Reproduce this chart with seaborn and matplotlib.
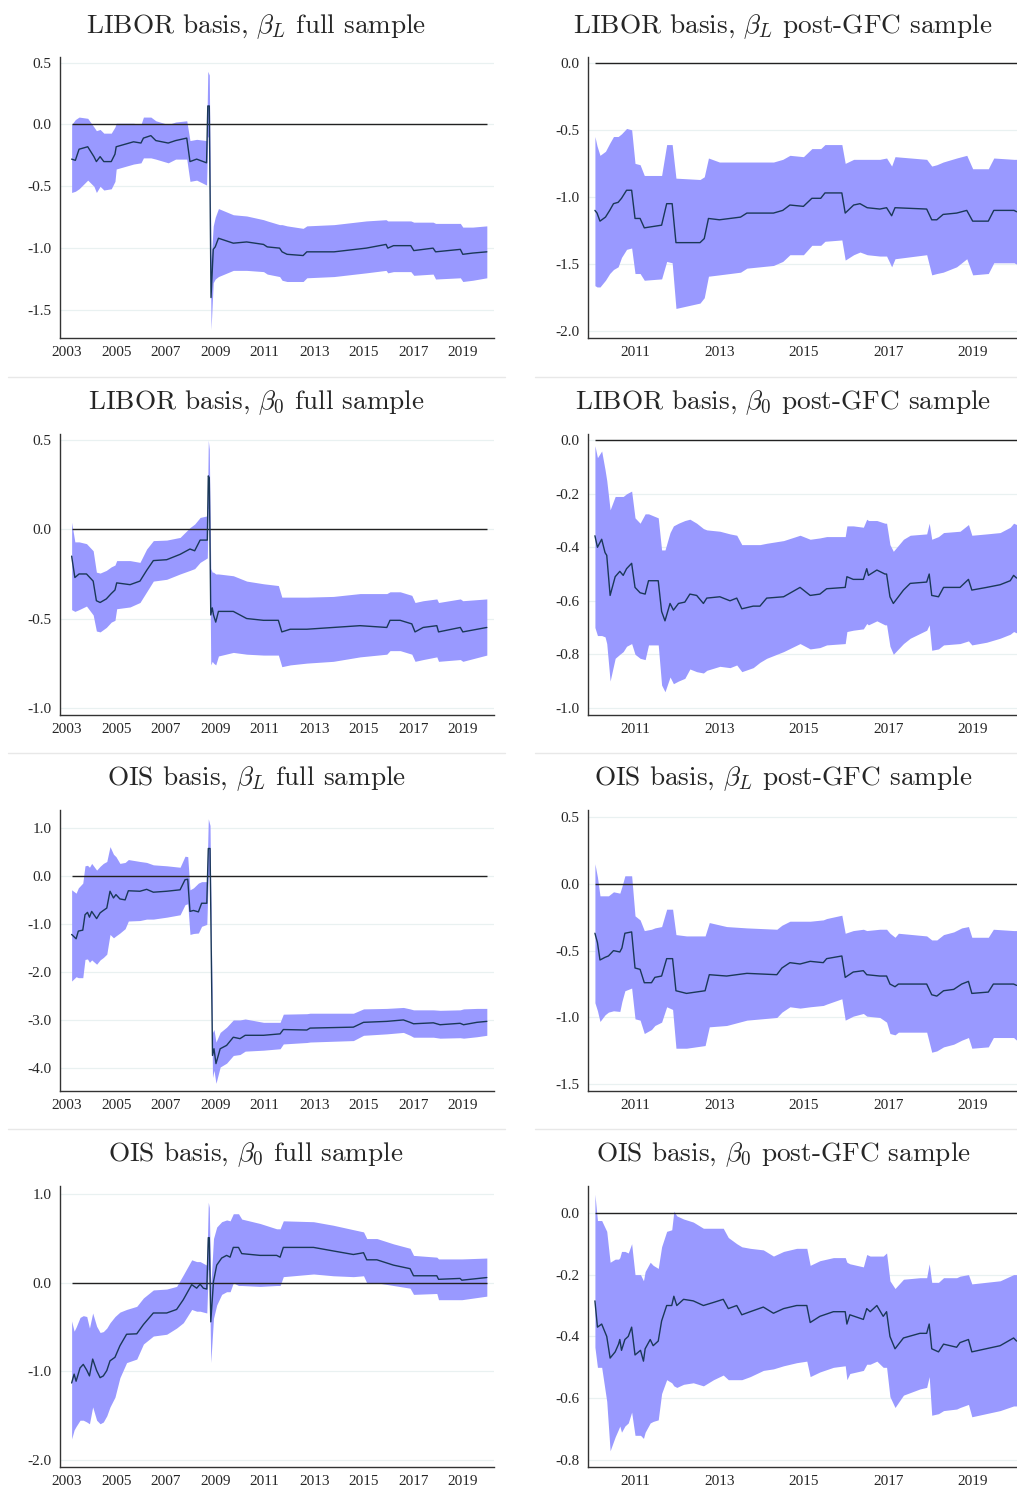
import matplotlib
matplotlib.use('Agg')
import matplotlib.pyplot as plt
import seaborn as sns
from matplotlib.ticker import FormatStrFormatter
from matplotlib.lines import Line2D

# LIBOR basis, beta_L, full sample
lib_bL_full_t = [2003.20, 2003.35, 2003.50, 2003.85, 2004.10, 2004.20, 2004.35, 2004.50, 2004.80, 2004.95,
                 2005.00, 2005.70, 2006.00, 2006.10, 2006.40, 2006.60, 2007.10, 2007.40, 2007.85, 2007.98,
                 2008.25, 2008.65, 2008.70, 2008.76, 2008.83, 2008.92, 2009.00, 2009.13, 2009.73, 2010.27,
                 2010.95, 2011.10, 2011.60, 2011.70, 2011.90, 2012.55, 2012.70, 2013.80, 2015.10, 2015.90,
                 2015.97, 2016.20, 2016.90, 2017.02, 2017.80, 2017.90, 2018.90, 2019.00, 2019.40, 2019.97]
lib_bL_full_mid = [-0.28, -0.29, -0.20, -0.18, -0.26, -0.30, -0.26, -0.30, -0.30, -0.24,
                   -0.18, -0.14, -0.15, -0.11, -0.09, -0.13, -0.15, -0.13, -0.11, -0.30,
                   -0.28, -0.31, 0.15, 0.15, -1.40, -1.01, -0.99, -0.92, -0.96, -0.95,
                   -0.97, -0.99, -1.00, -1.03, -1.05, -1.06, -1.03, -1.03, -1.00, -0.97,
                   -1.00, -0.98, -0.98, -1.02, -1.00, -1.03, -1.01, -1.05, -1.04, -1.03]
lib_bL_full_lo = [-0.55, -0.54, -0.52, -0.45, -0.50, -0.55, -0.50, -0.53, -0.52, -0.46,
                  -0.36, -0.32, -0.31, -0.27, -0.27, -0.28, -0.31, -0.28, -0.28, -0.46,
                  -0.45, -0.49, -0.10, -0.10, -1.66, -1.28, -1.25, -1.23, -1.18, -1.18,
                  -1.19, -1.21, -1.23, -1.26, -1.27, -1.27, -1.24, -1.23, -1.20, -1.18,
                  -1.20, -1.19, -1.19, -1.22, -1.21, -1.25, -1.24, -1.27, -1.26, -1.24]
lib_bL_full_hi = [0.00, 0.04, 0.06, 0.05, -0.02, -0.05, -0.04, -0.07, -0.07, -0.02,
                  0.01, 0.01, 0.00, 0.06, 0.06, 0.03, 0.00, 0.02, 0.03, -0.13,
                  -0.12, -0.13, 0.43, 0.40, -1.10, -0.82, -0.75, -0.68, -0.73, -0.74,
                  -0.77, -0.78, -0.81, -0.81, -0.82, -0.84, -0.82, -0.81, -0.78, -0.77,
                  -0.78, -0.78, -0.78, -0.79, -0.79, -0.80, -0.80, -0.83, -0.83, -0.82]

# LIBOR basis, beta_L, post-GFC sample
lib_bL_post_t = [2010.05, 2010.10, 2010.17, 2010.30, 2010.40, 2010.49, 2010.60, 2010.68, 2010.80, 2010.92,
                 2011.00, 2011.12, 2011.22, 2011.63, 2011.75, 2011.88, 2011.97, 2012.54, 2012.64, 2012.74,
                 2013.00, 2013.50, 2013.65, 2014.28, 2014.50, 2014.67, 2014.99, 2015.19, 2015.40, 2015.50,
                 2015.90, 2015.98, 2016.18, 2016.33, 2016.50, 2016.80, 2016.96, 2017.08, 2017.16, 2017.91,
                 2018.03, 2018.15, 2018.30, 2018.62, 2018.86, 2019.00, 2019.37, 2019.50, 2019.98, 2020.04]
lib_bL_post_mid = [-1.10, -1.12, -1.18, -1.15, -1.10, -1.05, -1.04, -1.01, -0.95, -0.95,
                   -1.16, -1.16, -1.23, -1.21, -1.05, -1.05, -1.34, -1.34, -1.31, -1.16,
                   -1.17, -1.15, -1.12, -1.12, -1.10, -1.06, -1.07, -1.01, -1.01, -0.97,
                   -0.97, -1.12, -1.06, -1.05, -1.08, -1.09, -1.08, -1.14, -1.08, -1.09,
                   -1.17, -1.17, -1.13, -1.12, -1.10, -1.18, -1.18, -1.10, -1.10, -1.11]
lib_bL_post_lo = [-1.66, -1.67, -1.67, -1.62, -1.57, -1.54, -1.52, -1.45, -1.39, -1.38,
                  -1.57, -1.57, -1.62, -1.61, -1.48, -1.49, -1.83, -1.79, -1.75, -1.59,
                  -1.58, -1.56, -1.53, -1.51, -1.48, -1.43, -1.43, -1.36, -1.36, -1.33,
                  -1.32, -1.47, -1.43, -1.41, -1.43, -1.44, -1.44, -1.52, -1.46, -1.43,
                  -1.58, -1.57, -1.56, -1.52, -1.46, -1.58, -1.57, -1.49, -1.49, -1.50]
lib_bL_post_hi = [-0.55, -0.62, -0.69, -0.66, -0.60, -0.55, -0.55, -0.53, -0.49, -0.50,
                  -0.75, -0.76, -0.84, -0.84, -0.61, -0.61, -0.86, -0.87, -0.85, -0.71,
                  -0.74, -0.74, -0.74, -0.74, -0.72, -0.69, -0.70, -0.64, -0.64, -0.61,
                  -0.61, -0.75, -0.72, -0.72, -0.72, -0.72, -0.71, -0.77, -0.70, -0.72,
                  -0.77, -0.76, -0.74, -0.71, -0.69, -0.79, -0.79, -0.71, -0.72, -0.72]

# LIBOR basis, beta_0, full sample
lib_b0_full_t = [2003.20, 2003.33, 2003.50, 2003.80, 2004.07, 2004.20, 2004.35, 2004.60, 2004.80, 2004.95,
                 2005.02, 2005.56, 2005.96, 2006.23, 2006.50, 2007.04, 2007.58, 2007.98, 2008.17, 2008.39,
                 2008.68, 2008.72, 2008.76, 2008.82, 2008.88, 2008.93, 2009.02, 2009.13, 2009.73, 2010.27,
                 2010.95, 2011.55, 2011.69, 2012.03, 2012.70, 2013.77, 2014.85, 2015.93, 2016.06, 2016.47,
                 2016.94, 2017.07, 2017.40, 2017.95, 2018.02, 2018.90, 2019.00, 2019.97]
lib_b0_full_mid = [-0.15, -0.27, -0.25, -0.25, -0.29, -0.40, -0.41, -0.39, -0.36, -0.34,
                   -0.30, -0.31, -0.29, -0.23, -0.175, -0.17, -0.14, -0.11, -0.12, -0.06,
                   -0.06, 0.30, 0.29, -0.48, -0.44, -0.48, -0.52, -0.46, -0.46, -0.50,
                   -0.51, -0.51, -0.575, -0.56, -0.56, -0.55, -0.54, -0.55, -0.51, -0.51,
                   -0.53, -0.575, -0.55, -0.54, -0.575, -0.55, -0.575, -0.55]
lib_b0_full_lo = [-0.45, -0.46, -0.45, -0.43, -0.48, -0.57, -0.575, -0.55, -0.52, -0.51,
                  -0.445, -0.435, -0.41, -0.35, -0.29, -0.28, -0.25, -0.23, -0.22, -0.185,
                  -0.16, 0.12, 0.10, -0.76, -0.74, -0.75, -0.76, -0.71, -0.69, -0.70,
                  -0.705, -0.705, -0.77, -0.76, -0.75, -0.74, -0.715, -0.70, -0.68, -0.68,
                  -0.70, -0.74, -0.73, -0.715, -0.74, -0.73, -0.74, -0.705]
lib_b0_full_hi = [0.04, -0.07, -0.07, -0.08, -0.12, -0.24, -0.245, -0.23, -0.21, -0.20,
                  -0.175, -0.175, -0.185, -0.11, -0.063, -0.06, -0.045, 0.01, 0.03, 0.067,
                  0.076, 0.50, 0.45, -0.22, -0.24, -0.24, -0.25, -0.25, -0.26, -0.29,
                  -0.305, -0.315, -0.38, -0.38, -0.38, -0.376, -0.36, -0.36, -0.35, -0.35,
                  -0.37, -0.41, -0.40, -0.39, -0.41, -0.39, -0.40, -0.39]

# LIBOR basis, beta_0, post-GFC sample
lib_b0_post_t = [2010.05, 2010.11, 2010.21, 2010.29, 2010.33, 2010.41, 2010.53, 2010.64, 2010.72, 2010.80,
                 2010.92, 2011.00, 2011.12, 2011.24, 2011.32, 2011.55, 2011.63, 2011.71, 2011.83, 2011.91,
                 2012.03, 2012.18, 2012.30, 2012.46, 2012.62, 2012.70, 2013.01, 2013.25, 2013.41, 2013.53,
                 2013.80, 2013.96, 2014.12, 2014.52, 2014.91, 2015.15, 2015.38, 2015.54, 2015.98, 2016.02,
                 2016.17, 2016.41, 2016.49, 2016.53, 2016.73, 2016.92, 2016.96, 2017.04, 2017.12, 2017.36,
                 2017.52, 2017.91, 2017.97, 2018.03, 2018.19, 2018.31, 2018.70, 2018.90, 2018.98, 2019.33,
                 2019.65, 2019.89, 2019.97, 2020.04]
lib_b0_post_mid = [-0.357, -0.40, -0.37, -0.42, -0.43, -0.58, -0.51, -0.49, -0.505, -0.48,
                   -0.46, -0.55, -0.57, -0.575, -0.525, -0.525, -0.64, -0.675, -0.61, -0.635,
                   -0.61, -0.605, -0.575, -0.58, -0.61, -0.59, -0.585, -0.60, -0.59, -0.63,
                   -0.62, -0.62, -0.59, -0.585, -0.55, -0.58, -0.575, -0.555, -0.55, -0.51,
                   -0.52, -0.52, -0.48, -0.505, -0.485, -0.50, -0.50, -0.585, -0.61, -0.56,
                   -0.535, -0.53, -0.50, -0.58, -0.585, -0.55, -0.55, -0.52, -0.56, -0.55,
                   -0.54, -0.525, -0.505, -0.515]
lib_b0_post_lo = [-0.70, -0.73, -0.73, -0.735, -0.76, -0.90, -0.815, -0.80, -0.79, -0.77,
                  -0.76, -0.80, -0.815, -0.82, -0.765, -0.765, -0.915, -0.94, -0.885, -0.91,
                  -0.90, -0.89, -0.855, -0.865, -0.87, -0.86, -0.845, -0.85, -0.84, -0.865,
                  -0.85, -0.83, -0.815, -0.79, -0.76, -0.78, -0.775, -0.765, -0.76, -0.715,
                  -0.71, -0.705, -0.685, -0.69, -0.675, -0.69, -0.69, -0.77, -0.80, -0.76,
                  -0.74, -0.71, -0.69, -0.785, -0.78, -0.765, -0.76, -0.75, -0.765, -0.755,
                  -0.74, -0.725, -0.715, -0.72]
lib_b0_post_hi = [-0.02, -0.065, -0.04, -0.11, -0.15, -0.26, -0.21, -0.21, -0.21, -0.20,
                  -0.19, -0.29, -0.31, -0.275, -0.275, -0.29, -0.41, -0.41, -0.345, -0.32,
                  -0.31, -0.30, -0.295, -0.31, -0.33, -0.335, -0.34, -0.35, -0.355, -0.39,
                  -0.39, -0.39, -0.385, -0.375, -0.355, -0.37, -0.365, -0.36, -0.36, -0.32,
                  -0.32, -0.325, -0.295, -0.30, -0.30, -0.31, -0.31, -0.39, -0.415, -0.37,
                  -0.355, -0.35, -0.31, -0.37, -0.36, -0.345, -0.34, -0.315, -0.355, -0.35,
                  -0.345, -0.325, -0.31, -0.315]

# OIS basis, beta_L, full sample
ois_bL_full_t = [2003.20, 2003.38, 2003.47, 2003.65, 2003.74, 2003.84, 2003.92, 2004.01, 2004.21, 2004.35,
                 2004.48, 2004.62, 2004.75, 2004.89, 2004.99, 2005.15, 2005.36, 2005.49, 2005.96, 2006.23,
                 2006.50, 2007.04, 2007.58, 2007.78, 2007.89, 2007.98, 2008.12, 2008.32, 2008.45, 2008.66,
                 2008.72, 2008.79, 2008.89, 2008.95, 2009.03, 2009.20, 2009.46, 2009.73, 2010.00, 2010.21,
                 2010.95, 2011.62, 2011.75, 2012.70, 2012.83, 2014.58, 2014.99, 2015.93, 2016.60, 2016.87,
                 2017.01, 2017.81, 2018.08, 2018.89, 2019.03, 2019.57, 2019.97]
ois_bL_full_mid = [-1.22, -1.31, -1.15, -1.13, -0.81, -0.76, -0.86, -0.74, -0.89, -0.77,
                   -0.72, -0.67, -0.32, -0.46, -0.39, -0.48, -0.50, -0.31, -0.32, -0.28,
                   -0.34, -0.32, -0.29, -0.08, -0.07, -0.74, -0.72, -0.75, -0.57, -0.57,
                   0.57, 0.57, -3.74, -3.60, -3.91, -3.60, -3.53, -3.36, -3.39, -3.32,
                   -3.32, -3.29, -3.20, -3.21, -3.17, -3.15, -3.05, -3.03, -3.00, -3.05,
                   -3.08, -3.06, -3.10, -3.07, -3.10, -3.05, -3.03]
ois_bL_full_lo = [-2.19, -2.10, -2.12, -2.12, -1.74, -1.73, -1.80, -1.75, -1.84, -1.75,
                  -1.70, -1.63, -1.22, -1.29, -1.25, -1.19, -1.10, -0.94, -0.93, -0.90,
                  -0.90, -0.86, -0.81, -0.60, -0.58, -1.22, -1.20, -1.19, -1.05, -1.01,
                  0.00, 0.05, -4.20, -4.05, -4.32, -3.98, -3.90, -3.74, -3.72, -3.65,
                  -3.63, -3.60, -3.50, -3.47, -3.46, -3.43, -3.32, -3.29, -3.26, -3.32,
                  -3.36, -3.36, -3.38, -3.37, -3.38, -3.35, -3.32]
ois_bL_full_hi = [-0.29, -0.36, -0.25, -0.15, 0.21, 0.22, 0.18, 0.26, 0.12, 0.20,
                  0.26, 0.30, 0.61, 0.45, 0.40, 0.26, 0.28, 0.34, 0.30, 0.28,
                  0.23, 0.21, 0.18, 0.41, 0.40, -0.29, -0.25, -0.15, -0.12, -0.12,
                  1.19, 1.05, -3.26, -3.20, -3.46, -3.26, -3.15, -3.00, -3.00, -2.98,
                  -3.05, -3.05, -2.88, -2.87, -2.86, -2.86, -2.77, -2.76, -2.74, -2.77,
                  -2.79, -2.79, -2.80, -2.79, -2.77, -2.76, -2.76]

# OIS basis, beta_L, post-GFC sample
ois_bL_post_t = [2010.05, 2010.11, 2010.17, 2010.29, 2010.37, 2010.49, 2010.64, 2010.69, 2010.76, 2010.92,
                 2011.00, 2011.12, 2011.22, 2011.39, 2011.47, 2011.63, 2011.75, 2011.89, 2011.97, 2012.22,
                 2012.66, 2012.76, 2013.17, 2013.65, 2014.36, 2014.48, 2014.67, 2014.91, 2015.15, 2015.46,
                 2015.54, 2015.90, 2015.98, 2016.17, 2016.41, 2016.49, 2016.80, 2016.96, 2017.04, 2017.16,
                 2017.24, 2017.91, 2018.03, 2018.15, 2018.31, 2018.55, 2018.74, 2018.90, 2018.98, 2019.37,
                 2019.49, 2019.97, 2020.04]
ois_bL_post_mid = [-0.37, -0.44, -0.57, -0.55, -0.54, -0.50, -0.51, -0.48, -0.37, -0.36,
                   -0.63, -0.64, -0.74, -0.74, -0.70, -0.69, -0.56, -0.56, -0.80, -0.82,
                   -0.80, -0.68, -0.69, -0.67, -0.68, -0.63, -0.59, -0.60, -0.58, -0.59,
                   -0.56, -0.54, -0.70, -0.66, -0.65, -0.68, -0.69, -0.69, -0.75, -0.77,
                   -0.75, -0.75, -0.83, -0.84, -0.80, -0.79, -0.75, -0.73, -0.82, -0.81,
                   -0.75, -0.75, -0.76]
ois_bL_post_lo = [-0.89, -0.95, -1.03, -0.98, -0.96, -0.95, -0.955, -0.88, -0.80, -0.78,
                  -1.01, -1.02, -1.12, -1.09, -1.06, -1.035, -0.92, -0.94, -1.23, -1.23,
                  -1.21, -1.07, -1.06, -1.02, -1.00, -0.96, -0.92, -0.93, -0.92, -0.91,
                  -0.90, -0.86, -1.02, -0.99, -0.97, -0.99, -1.00, -1.035, -1.12, -1.13,
                  -1.11, -1.11, -1.26, -1.25, -1.22, -1.20, -1.17, -1.15, -1.23, -1.22,
                  -1.15, -1.15, -1.17]
ois_bL_post_hi = [0.15, 0.05, -0.09, -0.09, -0.09, -0.06, -0.07, -0.02, 0.06, 0.06,
                  -0.24, -0.27, -0.35, -0.34, -0.33, -0.32, -0.19, -0.19, -0.38, -0.39,
                  -0.39, -0.29, -0.32, -0.33, -0.34, -0.31, -0.28, -0.28, -0.28, -0.27,
                  -0.26, -0.235, -0.37, -0.35, -0.34, -0.35, -0.34, -0.34, -0.37, -0.40,
                  -0.37, -0.39, -0.42, -0.42, -0.38, -0.36, -0.33, -0.32, -0.40, -0.40,
                  -0.34, -0.35, -0.35]

# OIS basis, beta_0, full sample
ois_b0_full_t = [2003.20, 2003.30, 2003.38, 2003.54, 2003.67, 2003.81, 2003.92, 2004.05, 2004.21, 2004.35,
                 2004.48, 2004.62, 2004.75, 2004.95, 2005.15, 2005.42, 2005.83, 2006.10, 2006.50, 2007.04,
                 2007.44, 2007.71, 2008.05, 2008.25, 2008.39, 2008.52, 2008.66, 2008.72, 2008.76, 2008.82,
                 2008.93, 2009.06, 2009.26, 2009.46, 2009.60, 2009.73, 2009.94, 2010.07, 2010.81, 2011.48,
                 2011.62, 2011.75, 2012.97, 2013.77, 2014.58, 2014.99, 2015.12, 2015.53, 2016.20, 2016.87,
                 2017.01, 2017.95, 2018.02, 2018.89, 2018.96, 2019.97]
ois_b0_full_mid = [-1.13, -1.03, -1.11, -0.96, -0.92, -0.985, -1.05, -0.86, -0.99, -1.07,
                   -1.05, -0.99, -0.88, -0.84, -0.71, -0.58, -0.575, -0.47, -0.34, -0.34,
                   -0.30, -0.19, -0.02, -0.06, -0.015, -0.06, -0.07, 0.51, 0.51, -0.44,
                   0.015, 0.20, 0.28, 0.31, 0.29, 0.40, 0.40, 0.33, 0.31, 0.31,
                   0.29, 0.40, 0.40, 0.36, 0.32, 0.34, 0.26, 0.26, 0.20, 0.16,
                   0.08, 0.08, 0.04, 0.05, 0.03, 0.06]
ois_b0_full_lo = [-1.76, -1.66, -1.62, -1.55, -1.55, -1.57, -1.59, -1.40, -1.55, -1.59,
                  -1.57, -1.50, -1.40, -1.29, -1.07, -0.90, -0.86, -0.69, -0.60, -0.58,
                  -0.51, -0.45, -0.30, -0.32, -0.32, -0.33, -0.34, 0.15, 0.15, -0.90,
                  -0.40, -0.25, -0.13, -0.10, -0.10, 0.00, -0.03, -0.03, -0.04, -0.03,
                  -0.03, 0.07, 0.10, 0.08, 0.07, 0.08, 0.00, 0.00, -0.03, -0.06,
                  -0.13, -0.12, -0.19, -0.19, -0.19, -0.15]
ois_b0_full_hi = [-0.43, -0.545, -0.50, -0.39, -0.37, -0.38, -0.51, -0.34, -0.49, -0.56,
                  -0.55, -0.51, -0.45, -0.38, -0.33, -0.30, -0.265, -0.17, -0.08, -0.07,
                  -0.04, 0.09, 0.26, 0.24, 0.24, 0.22, 0.20, 0.91, 0.85, -0.05,
                  0.50, 0.63, 0.69, 0.71, 0.70, 0.78, 0.78, 0.72, 0.67, 0.61,
                  0.61, 0.70, 0.69, 0.65, 0.60, 0.575, 0.50, 0.50, 0.44, 0.39,
                  0.31, 0.29, 0.27, 0.27, 0.27, 0.28]

# OIS basis, beta_0, post-GFC sample
ois_b0_post_t = [2010.05, 2010.11, 2010.21, 2010.33, 2010.41, 2010.53, 2010.61, 2010.64, 2010.68, 2010.76,
                 2010.84, 2010.92, 2011.00, 2011.13, 2011.20, 2011.24, 2011.36, 2011.43, 2011.55, 2011.63,
                 2011.75, 2011.87, 2011.92, 2011.99, 2012.15, 2012.38, 2012.62, 2012.86, 2013.09, 2013.21,
                 2013.41, 2013.53, 2013.73, 2014.04, 2014.28, 2014.52, 2014.83, 2015.07, 2015.15, 2015.38,
                 2015.70, 2015.98, 2016.02, 2016.09, 2016.41, 2016.49, 2016.57, 2016.73, 2016.88, 2016.96,
                 2017.04, 2017.16, 2017.36, 2017.75, 2017.91, 2017.97, 2018.03, 2018.19, 2018.31, 2018.62,
                 2018.70, 2018.90, 2018.98, 2019.65, 2019.97, 2020.04]
ois_b0_post_mid = [-0.285, -0.37, -0.36, -0.40, -0.47, -0.45, -0.425, -0.41, -0.445, -0.41,
                   -0.40, -0.37, -0.46, -0.445, -0.48, -0.44, -0.41, -0.43, -0.415, -0.35,
                   -0.30, -0.30, -0.27, -0.30, -0.28, -0.285, -0.30, -0.29, -0.28, -0.31,
                   -0.30, -0.33, -0.32, -0.305, -0.325, -0.31, -0.30, -0.30, -0.355, -0.335,
                   -0.32, -0.32, -0.36, -0.33, -0.345, -0.31, -0.32, -0.30, -0.335, -0.32,
                   -0.40, -0.44, -0.405, -0.39, -0.39, -0.36, -0.44, -0.45, -0.425, -0.435,
                   -0.42, -0.41, -0.45, -0.43, -0.405, -0.415]
ois_b0_post_lo = [-0.435, -0.50, -0.50, -0.61, -0.77, -0.725, -0.70, -0.69, -0.71, -0.69,
                  -0.68, -0.645, -0.72, -0.72, -0.73, -0.71, -0.68, -0.675, -0.67, -0.585,
                  -0.54, -0.55, -0.56, -0.565, -0.555, -0.55, -0.56, -0.54, -0.525, -0.54,
                  -0.54, -0.54, -0.53, -0.51, -0.505, -0.495, -0.485, -0.48, -0.53, -0.515,
                  -0.50, -0.495, -0.54, -0.52, -0.51, -0.49, -0.49, -0.48, -0.50, -0.50,
                  -0.595, -0.63, -0.59, -0.57, -0.565, -0.53, -0.655, -0.65, -0.64, -0.635,
                  -0.63, -0.62, -0.66, -0.64, -0.625, -0.625]
ois_b0_post_hi = [0.06, -0.025, -0.025, -0.06, -0.16, -0.15, -0.15, -0.145, -0.125, -0.125,
                  -0.13, -0.10, -0.20, -0.20, -0.22, -0.19, -0.16, -0.17, -0.18, -0.11,
                  -0.06, -0.055, 0.005, -0.01, -0.02, -0.03, -0.05, -0.05, -0.05, -0.08,
                  -0.10, -0.11, -0.115, -0.12, -0.14, -0.125, -0.115, -0.115, -0.17, -0.155,
                  -0.145, -0.145, -0.16, -0.165, -0.175, -0.135, -0.14, -0.14, -0.14, -0.13,
                  -0.22, -0.245, -0.215, -0.21, -0.21, -0.165, -0.225, -0.225, -0.21, -0.21,
                  -0.205, -0.20, -0.23, -0.22, -0.20, -0.20]

full_years = [2003, 2005, 2007, 2009, 2011, 2013, 2015, 2017, 2019]
post_years = [2011, 2013, 2015, 2017, 2019]

panels = [
    (r'LIBOR basis, $\beta_L$ full sample', lib_bL_full_t, lib_bL_full_mid, lib_bL_full_lo, lib_bL_full_hi,
     (-1.727, 0.546), [0.5, 0.0, -0.5, -1.0, -1.5], 'full'),
    (r'LIBOR basis, $\beta_L$ post-GFC sample', lib_bL_post_t, lib_bL_post_mid, lib_bL_post_lo, lib_bL_post_hi,
     (-2.05, 0.042), [0.0, -0.5, -1.0, -1.5, -2.0], 'post'),
    (r'LIBOR basis, $\beta_0$ full sample', lib_b0_full_t, lib_b0_full_mid, lib_b0_full_lo, lib_b0_full_hi,
     (-1.041, 0.535), [0.5, 0.0, -0.5, -1.0], 'full'),
    (r'LIBOR basis, $\beta_0$ post-GFC sample', lib_b0_post_t, lib_b0_post_mid, lib_b0_post_lo, lib_b0_post_hi,
     (-1.027, 0.0235), [0.0, -0.2, -0.4, -0.6, -0.8, -1.0], 'post'),
    (r'OIS basis, $\beta_L$ full sample', ois_bL_full_t, ois_bL_full_mid, ois_bL_full_lo, ois_bL_full_hi,
     (-4.48, 1.372), [1.0, 0.0, -1.0, -2.0, -3.0, -4.0], 'full'),
    (r'OIS basis, $\beta_L$ post-GFC sample', ois_bL_post_t, ois_bL_post_mid, ois_bL_post_lo, ois_bL_post_hi,
     (-1.55, 0.552), [0.5, 0.0, -0.5, -1.0, -1.5], 'post'),
    (r'OIS basis, $\beta_0$ full sample', ois_b0_full_t, ois_b0_full_mid, ois_b0_full_lo, ois_b0_full_hi,
     (-2.078, 1.093), [1.0, 0.0, -1.0, -2.0], 'full'),
    (r'OIS basis, $\beta_0$ post-GFC sample', ois_b0_post_t, ois_b0_post_mid, ois_b0_post_lo, ois_b0_post_hi,
     (-0.8225, 0.0867), [0.0, -0.2, -0.4, -0.6, -0.8], 'post'),
]

sns.set_style('white')
plt.rcParams['font.family'] = ['Liberation Serif', 'DejaVu Serif']
plt.rcParams['mathtext.fontset'] = 'cm'

band_col = '#9999ff'
line_col = '#1a3858'
W, H = 1017, 1488
fig = plt.figure(figsize=(W / 100, H / 100), dpi=100)

row_bottom_px = [338, 715, 1091, 1467]
row_title_px = [27, 403, 779, 1155]
ax_h = 281

for i, (title, t, mid, lo, hi, ylim, yticks, kind) in enumerate(panels):
    row, col = divmod(i, 2)
    if col == 0:
        left, right = 60, 494
        xlim = (2002.73, 2020.26)
        xt = full_years
        tcx = 256
    else:
        left, right = 588, 1017
        xlim = (2009.886, 2020.05)
        xt = post_years
        tcx = 783
    ax = fig.add_axes([left / W, 1 - row_bottom_px[row] / H, (right - left) / W, ax_h / H])
    ax.fill_between(t, lo, hi, color=band_col, lw=0, zorder=2)
    zero_end = t[-1] if kind == 'full' else xlim[1]
    ax.hlines(0, t[0], zero_end, color='#222222', lw=1.0, zorder=3)
    sns.lineplot(x=t, y=mid, ax=ax, color=line_col, lw=1.0, estimator=None, zorder=4)
    ax.set_xlim(*xlim)
    ax.set_ylim(*ylim)
    ax.set_xticks(xt)
    ax.set_xticklabels([str(y) for y in xt])
    ax.set_yticks(yticks)
    ax.yaxis.set_major_formatter(FormatStrFormatter('%.1f'))
    ax.yaxis.grid(True, color='#e9f1f1', lw=0.9)
    ax.xaxis.grid(False)
    ax.set_axisbelow(True)
    for s in ['top', 'right']:
        ax.spines[s].set_visible(False)
    for s in ['left', 'bottom']:
        ax.spines[s].set_color('#333333')
        ax.spines[s].set_linewidth(1.0)
    ax.tick_params(direction='out', length=4, width=0.9, color='#333333', labelsize=11, pad=2)
    ax.set_xlabel('')
    ax.set_ylabel('')
    fig.text(tcx / W, 1 - row_title_px[row] / H, title, ha='center', va='center',
             fontsize=19.6, family='cmr10')

# light separators between rows
for ypx in [377, 753, 1129]:
    fig.add_artist(Line2D([8 / W, 505 / W], [1 - ypx / H] * 2, color='#e8e8e8', lw=1))
    fig.add_artist(Line2D([535 / W, 1.0], [1 - ypx / H] * 2, color='#e8e8e8', lw=1))

fig.savefig('out.png', dpi=100)
